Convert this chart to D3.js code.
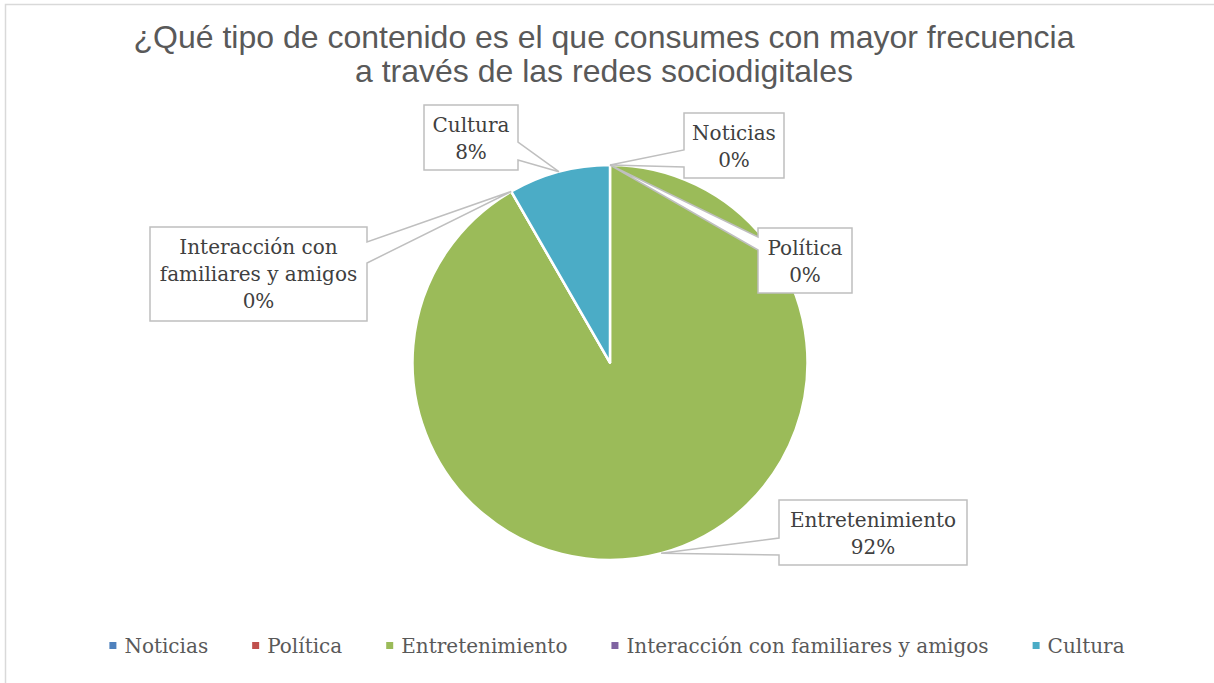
<!DOCTYPE html>
<html><head><meta charset="utf-8">
<script src="https://cdn.jsdelivr.net/npm/d3@7"></script>
<style>html,body{margin:0;padding:0;background:#fff;overflow:hidden}</style>
</head><body>
<svg id="chart" width="1214" height="683"></svg>
<script>
const categories = ["Noticias","Política","Entretenimiento","Interacción con familiares y amigos","Cultura"];
const values = [0, 0, 11, 0, 1];
const colors = ["#4f81bd","#c0504d","#9bbb59","#8064a2","#4bacc6"];
const titleLines = ["¿Qué tipo de contenido es el que consumes con mayor frecuencia","a través de las redes sociodigitales"];
const labelLines = [["Noticias"],["Política"],["Entretenimiento"],["Interacción con","familiares y amigos"],["Cultura"]];

// callout layout: box x,y,w,h, side of pointer, two offsets along that side
const callouts = [
  {x:684,y:113,w:100,h:65,side:"left",a:37,b:54},
  {x:758,y:228,w:94,h:65,side:"left",a:9,b:22},
  {x:779,y:500,w:188,h:65,side:"left",a:38,b:55},
  {x:150,y:227,w:217,h:94,side:"right",a:15,b:36},
  {x:424,y:105,w:94,h:65,side:"right",a:37,b:55}
];

const svg = d3.select("#chart");
const cx = 610, cy = 362.5, r = 197.5;

svg.append("rect").attr("x",5.5).attr("y",4.5).attr("width",1400).attr("height",900)
  .attr("fill","none").attr("stroke","#d9d9d9").attr("stroke-width",1.5);

const title = svg.append("text").attr("text-anchor","middle")
  .attr("font-family","'Liberation Sans', Arial, sans-serif").attr("font-size",32).attr("fill","#595959");
titleLines.forEach((t,i)=>title.append("tspan").attr("x",604).attr("y",48+i*34).text(t));

const total = d3.sum(values);
const pie = d3.pie().sort(null).value(d=>d)(values);
const arc = d3.arc().innerRadius(0).outerRadius(r);
const g = svg.append("g").attr("transform",`translate(${cx},${cy})`);
g.selectAll("path").data(pie).join("path")
  .attr("d",arc).attr("fill",(d,i)=>colors[i])
  .attr("stroke","#fff").attr("stroke-width",2.5).attr("stroke-linejoin","round");

const fmt = d3.format(".0%");
pie.forEach((d,i)=>{
  const ang = d.endAngle - d.startAngle > 0 ? (d.startAngle+d.endAngle)/2 : d.startAngle;
  const ax = cx + r*Math.sin(ang), ay = cy - r*Math.cos(ang);
  const c = callouts[i];
  let path;
  if (c.side==="left") {
    path = `M${c.x},${c.y} H${c.x+c.w} V${c.y+c.h} H${c.x} V${c.y+c.b} L${ax},${ay} L${c.x},${c.y+c.a} Z`;
  } else {
    path = `M${c.x},${c.y} H${c.x+c.w} V${c.y+c.a} L${ax},${ay} L${c.x+c.w},${c.y+c.b} V${c.y+c.h} H${c.x} Z`;
  }
  svg.append("path").attr("d",path).attr("fill","#fff").attr("stroke","#bfbfbf").attr("stroke-width",1.5)
    .attr("stroke-linejoin","miter");
  const lines = labelLines[i].concat([fmt(d.value/total)]);
  const t = svg.append("text").attr("text-anchor","middle")
    .attr("font-family","'DejaVu Serif', serif").attr("font-size",20).attr("fill","#404040");
  lines.forEach((s,k)=>t.append("tspan").attr("x",c.x+c.w/2).attr("y",c.y+27+k*27).text(s));
});

// legend
const lg = svg.append("g");
const items = categories.map((name,i)=>{
  const it = lg.append("g");
  it.append("rect").attr("x",0).attr("y",-4).attr("width",7).attr("height",7).attr("fill",colors[i]);
  const tx = it.append("text").attr("x",15).attr("y",0).attr("dy","0.35em")
    .attr("font-family","'DejaVu Serif', serif").attr("font-size",20).attr("fill","#595959").text(name);
  return {it, w: 15 + tx.node().getComputedTextLength()};
});
const gap = 44;
const totalW = d3.sum(items,d=>d.w) + gap*(items.length-1);
let x0 = 617 - totalW/2;
items.forEach(d=>{ d.it.attr("transform",`translate(${x0},646)`); x0 += d.w + gap; });
</script>
</body></html>
